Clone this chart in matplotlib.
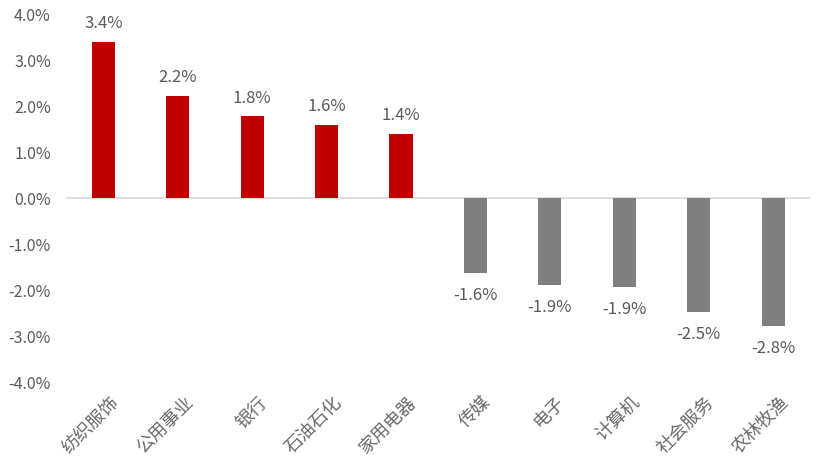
import matplotlib
matplotlib.use('agg')
import matplotlib.pyplot as plt
from matplotlib.ticker import FuncFormatter
import matplotlib.transforms as mtransforms

plt.rcParams['font.family'] = ['Noto Sans CJK SC', 'DejaVu Sans']

categories = ['纺织服饰', '公用事业', '银行', '石油石化', '家用电器',
              '传媒', '电子', '计算机', '社会服务', '农林牧渔']
values = [3.39, 2.23, 1.78, 1.59, 1.39, -1.63, -1.89, -1.93, -2.48, -2.78]
labels = ['3.4%', '2.2%', '1.8%', '1.6%', '1.4%',
          '-1.6%', '-1.9%', '-1.9%', '-2.5%', '-2.8%']

text_color = '#595959'
colors = ['#C00000' if v > 0 else '#7F7F7F' for v in values]

fig = plt.figure(figsize=(8.26, 4.70), dpi=100)
ax = fig.add_axes([0.080, 0.187, 0.901, 0.783])

x = list(range(len(categories)))
ax.bar(x, values, width=0.31, color=colors, zorder=3)

for xi, v, lab in zip(x, values, labels):
    if v > 0:
        ax.annotate(lab, (xi, v), xytext=(0, 7), textcoords='offset points',
                    ha='center', va='bottom', fontsize=12, color=text_color)
    else:
        ax.annotate(lab, (xi, v), xytext=(0, -10), textcoords='offset points',
                    ha='center', va='top', fontsize=12, color=text_color)

ax.set_ylim(-4, 4)
ax.set_xlim(-0.5, len(categories) - 0.5)
ax.set_yticks([-4, -3, -2, -1, 0, 1, 2, 3, 4])
ax.yaxis.set_major_formatter(FuncFormatter(lambda v, p: '%.1f%%' % v))
ax.axhline(0, color='#D9D9D9', linewidth=1.2, zorder=2)

for s in ax.spines.values():
    s.set_visible(False)
ax.tick_params(axis='both', length=0, colors=text_color)
ax.tick_params(axis='y', pad=11, labelsize=11.5)

ax.set_xticks(x)
ax.set_xticklabels(categories, rotation=45, ha='right', rotation_mode='anchor',
                   fontsize=13, color='#6A6A6A')
ax.tick_params(axis='x', pad=8)
shift = mtransforms.ScaledTranslation(6 / 100, 0, fig.dpi_scale_trans)
for t in ax.get_xticklabels():
    t.set_transform(t.get_transform() + shift)

fig.savefig('out.png', dpi=100)
